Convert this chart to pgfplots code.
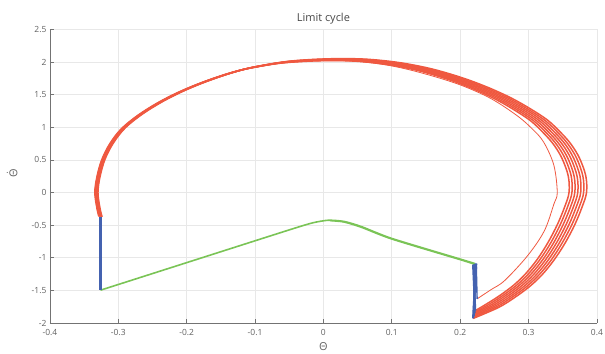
\documentclass[border=0pt]{standalone}
\usepackage{fontspec}
\setmainfont{Open Sans}
\usepackage{pgfplots}
\pgfplotsset{compat=1.18}
\definecolor{cred}{RGB}{239,88,64}
\definecolor{cblue}{RGB}{68,98,176}
\definecolor{cgreen}{RGB}{122,196,86}
\begin{document}
\begin{tikzpicture}
\useasboundingbox (-49.9bp,-31bp) rectangle (555.1bp,323bp);
\begin{axis}[
  scale only axis, width=547bp, height=293.6bp,
  xmin=-0.4, xmax=0.4, ymin=-2, ymax=2.5,
  xtick={-0.4,-0.3,-0.2,-0.1,0,0.1,0.2,0.3,0.4},
  ytick={-2,-1.5,-1,-0.5,0,0.5,1,1.5,2,2.5},
  axis lines=left,
  axis line style={-, draw=black!55, line width=0.7bp},
  tick align=inside, major tick length=4bp,
  tick style={draw=black!55, line width=0.6bp},
  grid=major, major grid style={draw=black!9, line width=0.7bp},
  ticklabel style={font=\fontsize{8.5}{9}\selectfont, text=black!62},
  xticklabel style={yshift=-3bp},
  /pgf/number format/assume math mode=true,
  clip=false,
  title={Limit cycle},
  every axis title/.style={at={(axis description cs:0.5,1.036)}, anchor=center, font=\fontsize{11}{12}\selectfont, text=black!72},
  xlabel={Θ},
  every axis x label/.style={at={(axis description cs:0.5,-0.082)}, anchor=center, font=\fontsize{11}{12}\selectfont, text=black!62},
  ylabel={$\dot{\mbox{Θ}}$},
  every axis y label/.style={at={(axis description cs:-0.069,0.51)}, rotate=90, anchor=center, font=\fontsize{11}{12}\selectfont, text=black!62},
  swing/.style={cred, line width=1.5bp, line join=round, smooth, tension=0.55},
]
% red swing phase, bundle of cycles
\addplot[swing] coordinates {
(0.219,-1.93) (0.2559,-1.7631) (0.2793,-1.6120) (0.3016,-1.4407) (0.3199,-1.2594) (0.3371,-1.0377)
(0.3534,-0.7758) (0.3676,-0.4937) (0.3787,-0.2116) (0.3848,0.0) (0.3838,0.2519) (0.3747,0.5239)
(0.3625,0.7355) (0.3483,0.9068) (0.3280,1.1083) (0.3016,1.2896) (0.2742,1.4508) (0.2427,1.6019)
(0.2102,1.7329) (0.1798,1.8337) (0.1504,1.9143) (0.1087,1.9949) (0.0600,2.0452) (0.0072,2.0493)
(-0.0486,2.0140) (-0.0943,1.9384) (-0.1196,1.8780) (-0.1470,1.7903) (-0.1765,1.6795) (-0.2059,1.5495)
(-0.2353,1.3934) (-0.2648,1.2019) (-0.2901,0.9874) (-0.3074,0.7556) (-0.3196,0.5038) (-0.3267,0.2418)
(-0.3297,0.0) (-0.3267,-0.2418) (-0.3236,-0.3728)
};
\addplot[swing] coordinates {
(0.2195,-1.91) (0.2523,-1.7588) (0.2755,-1.6080) (0.2977,-1.4372) (0.3159,-1.2563) (0.3331,-1.0352)
(0.3492,-0.7739) (0.3634,-0.4925) (0.3745,-0.2111) (0.3806,0.0) (0.3795,0.2513) (0.3705,0.5226)
(0.3583,0.7337) (0.3442,0.9045) (0.3240,1.1055) (0.2977,1.2864) (0.2705,1.4472) (0.2392,1.5980)
(0.2068,1.7286) (0.1765,1.8291) (0.1472,1.9095) (0.1058,1.9899) (0.0574,2.0402) (0.0048,2.0442)
(-0.0507,2.0090) (-0.0962,1.9336) (-0.1214,1.8733) (-0.1487,1.7859) (-0.1780,1.6753) (-0.2073,1.5457)
(-0.2366,1.3899) (-0.2659,1.1990) (-0.2911,0.9849) (-0.3083,0.7538) (-0.3204,0.5025) (-0.3275,0.2412)
(-0.3305,0.0) (-0.3275,-0.2412) (-0.3244,-0.3719)
};
\addplot[swing] coordinates {
(0.220,-1.89) (0.2486,-1.7544) (0.2718,-1.6040) (0.2939,-1.4336) (0.3120,-1.2531) (0.3290,-1.0326)
(0.3451,-0.7719) (0.3592,-0.4912) (0.3702,-0.2105) (0.3763,0.0) (0.3753,0.2506) (0.3662,0.5213)
(0.3542,0.7318) (0.3401,0.9023) (0.3200,1.1028) (0.2939,1.2832) (0.2667,1.4436) (0.2356,1.5940)
(0.2034,1.7243) (0.1733,1.8246) (0.1441,1.9048) (0.1029,1.9850) (0.0547,2.0351) (0.0024,2.0391)
(-0.0529,2.0040) (-0.0981,1.9288) (-0.1232,1.8687) (-0.1503,1.7814) (-0.1795,1.6712) (-0.2086,1.5418)
(-0.2378,1.3865) (-0.2669,1.1960) (-0.2920,0.9825) (-0.3091,0.7519) (-0.3212,0.5013) (-0.3282,0.2406)
(-0.3312,0.0) (-0.3282,-0.2406) (-0.3252,-0.3709)
};
\addplot[swing] coordinates {
(0.2205,-1.87) (0.245,-1.75) (0.268,-1.60) (0.290,-1.43) (0.308,-1.25) (0.325,-1.03)
(0.341,-0.77) (0.355,-0.49) (0.366,-0.21) (0.372,0.0) (0.371,0.25) (0.362,0.52)
(0.350,0.73) (0.336,0.90) (0.316,1.10) (0.290,1.28) (0.263,1.44) (0.232,1.59)
(0.200,1.72) (0.170,1.82) (0.141,1.90) (0.100,1.98) (0.052,2.03) (0.000,2.034)
(-0.055,1.999) (-0.100,1.924) (-0.125,1.864) (-0.152,1.777) (-0.181,1.667) (-0.210,1.538)
(-0.239,1.383) (-0.268,1.193) (-0.293,0.98) (-0.310,0.75) (-0.322,0.50) (-0.329,0.24)
(-0.332,0.0) (-0.329,-0.24) (-0.326,-0.37)
};
\addplot[swing] coordinates {
(0.221,-1.85) (0.2414,-1.7456) (0.2642,-1.5960) (0.2861,-1.4264) (0.3040,-1.2469) (0.3210,-1.0274)
(0.3369,-0.7681) (0.3508,-0.4888) (0.3618,-0.2095) (0.3677,0.0) (0.3667,0.2494) (0.3578,0.5187)
(0.3458,0.7282) (0.3319,0.8977) (0.3120,1.0972) (0.2861,1.2768) (0.2593,1.4364) (0.2284,1.5860)
(0.1966,1.7157) (0.1667,1.8154) (0.1379,1.8952) (0.0971,1.9750) (0.0493,2.0249) (-0.0024,2.0289)
(-0.0571,1.9940) (-0.1019,1.9192) (-0.1268,1.8593) (-0.1537,1.7726) (-0.1825,1.6628) (-0.2114,1.5342)
(-0.2402,1.3795) (-0.2691,1.1900) (-0.2940,0.9775) (-0.3109,0.7481) (-0.3228,0.4987) (-0.3298,0.2394)
(-0.3328,0.0) (-0.3298,-0.2394) (-0.3268,-0.3691)
};
\addplot[swing] coordinates {
(0.2215,-1.83) (0.2377,-1.7412) (0.2605,-1.5920) (0.2823,-1.4229) (0.3001,-1.2438) (0.3169,-1.0249)
(0.3328,-0.7662) (0.3466,-0.4876) (0.3575,-0.2090) (0.3635,0.0) (0.3625,0.2488) (0.3536,0.5174)
(0.3417,0.7264) (0.3278,0.8955) (0.3080,1.0945) (0.2823,1.2736) (0.2555,1.4328) (0.2249,1.5821)
(0.1932,1.7114) (0.1635,1.8109) (0.1348,1.8905) (0.0942,1.9701) (0.0467,2.0199) (-0.0048,2.0238)
(-0.0593,1.9890) (-0.1038,1.9144) (-0.1286,1.8547) (-0.1553,1.7681) (-0.1840,1.6587) (-0.2127,1.5303)
(-0.2414,1.3761) (-0.2702,1.1870) (-0.2949,0.9751) (-0.3117,0.7463) (-0.3236,0.4975) (-0.3305,0.2388)
(-0.3335,0.0) (-0.3305,-0.2388) (-0.3276,-0.3681)
};
\addplot[swing] coordinates {
(0.222,-1.81) (0.2341,-1.7369) (0.2567,-1.5880) (0.2784,-1.4193) (0.2961,-1.2406) (0.3129,-1.0223)
(0.3286,-0.7642) (0.3424,-0.4863) (0.3533,-0.2084) (0.3592,0.0) (0.3582,0.2481) (0.3493,0.5161)
(0.3375,0.7245) (0.3237,0.8932) (0.3040,1.0917) (0.2784,1.2704) (0.2518,1.4292) (0.2213,1.5781)
(0.1898,1.7071) (0.1602,1.8063) (0.1316,1.8857) (0.0913,1.9651) (0.0440,2.0148) (-0.0072,2.0187)
(-0.0614,1.9840) (-0.1057,1.9096) (-0.1304,1.8500) (-0.1570,1.7637) (-0.1855,1.6545) (-0.2141,1.5265)
(-0.2427,1.3726) (-0.2712,1.1841) (-0.2959,0.9726) (-0.3126,0.7444) (-0.3244,0.4962) (-0.3313,0.2382)
(-0.3343,0.0) (-0.3313,-0.2382) (-0.3284,-0.3672)
};
% thin transient cycle
\addplot[swing, line width=0.8bp] coordinates {
(0.2248,-1.63) (0.245,-1.49) (0.265,-1.35) (0.2985,-0.97) (0.323,-0.59) (0.337,-0.18) (0.342,0.0)
(0.337,0.42) (0.322,0.775) (0.305,0.98) (0.283,1.18) (0.245,1.44) (0.2,1.65) (0.148,1.82) (0.1,1.94)
(0.05,2.01) (0.0,2.03)
};
% green stance phase
\addplot[cgreen, line width=1.6bp, line join=round, smooth, tension=0.4] coordinates {
(-0.326,-1.497) (-0.2,-1.075) (-0.1,-0.74) (-0.04,-0.54) (-0.015,-0.463) (0.007,-0.425) (0.03,-0.443)
(0.055,-0.52) (0.1,-0.704) (0.2,-1.02) (0.222,-1.09)
};
\addplot[cgreen, line width=1.4bp, line join=round, smooth, tension=0.4] coordinates {
(0.01,-0.432) (0.03,-0.453) (0.055,-0.532) (0.1,-0.714) (0.2,-1.03) (0.221,-1.10)
};
% blue impact jumps
\addplot[cblue, line width=3.6bp] coordinates {(-0.326,-0.37) (-0.326,-1.497)};
\addplot[cblue, line width=2.2bp] coordinates {(0.2235,-1.088) (0.219,-1.93)};
\addplot[cblue, line width=2.2bp] coordinates {(0.222,-1.095) (0.220,-1.89)};
\addplot[cblue, line width=2.2bp] coordinates {(0.2205,-1.10) (0.221,-1.85)};
\addplot[cblue, line width=2.2bp] coordinates {(0.219,-1.105) (0.222,-1.81)};
\addplot[cblue, line width=1.4bp] coordinates {(0.2235,-1.09) (0.2248,-1.63)};
\end{axis}
\end{tikzpicture}
\end{document}
